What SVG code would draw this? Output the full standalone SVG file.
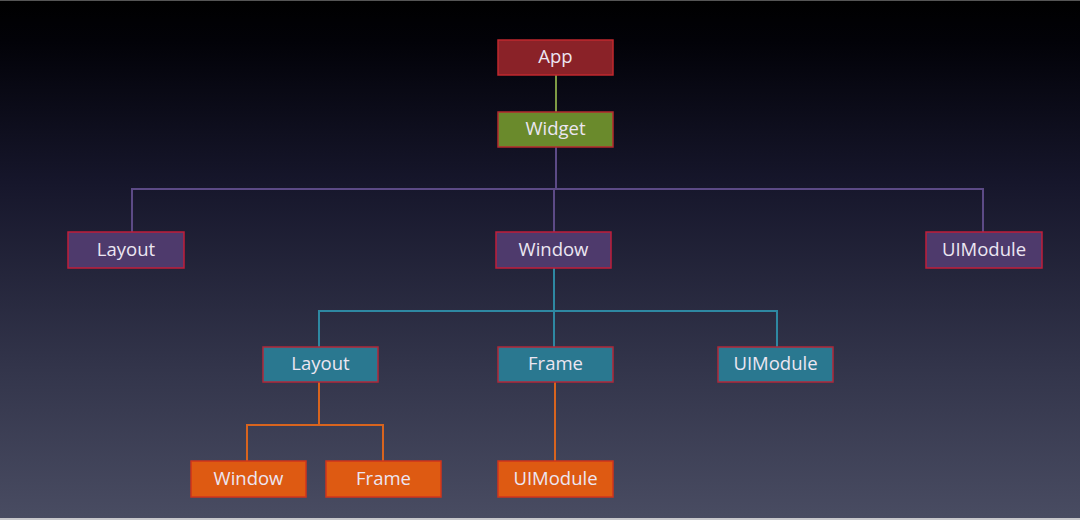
<svg xmlns="http://www.w3.org/2000/svg" width="1080" height="520" viewBox="0 0 1080 520">
  <defs>
    <linearGradient id="bg" x1="0" y1="0" x2="0" y2="1">
      <stop offset="0" stop-color="#000000"/>
      <stop offset="0.08" stop-color="#020208"/>
      <stop offset="0.35" stop-color="#16162b"/>
      <stop offset="0.7" stop-color="#32344a"/>
      <stop offset="1" stop-color="#494c62"/>
    </linearGradient>
    <style>
      .box { stroke-width: 1.5; }
      .app { fill: #8a2228; stroke: #c0282e; }
      .wid { fill: #6a8a2c; stroke: #b42a2e; }
      .pur { fill: #4e3a6c; stroke: #c01e3a; }
      .tea { fill: #2a7890; stroke: #b0283a; }
      .ora { fill: #de5a12; stroke: #d0341c; }
      .lbl { font-family: "Open Sans", "Liberation Sans", sans-serif; font-size: 18.5px; fill: #ece6f2; text-anchor: middle; }
      .ln { fill: none; stroke-width: 2; }
      .lg { stroke: #7d9a44; }
      .lp { stroke: #5c4a86; }
      .lt { stroke: #2e88a2; }
      .lo { stroke: #d8641e; }
    </style>
  </defs>
  <rect x="0" y="0" width="1080" height="520" fill="url(#bg)"/>
  <rect x="0" y="0" width="1080" height="1" fill="#555555"/>
  <rect x="0" y="518" width="1080" height="2" fill="#c8c8cc"/>

  <g id="connectors">
    <path class="ln lg" d="M556 75 V112"/>
    <path class="ln lp" d="M556 147 V189 M132 232 V189 H983 V232 M554 189 V232"/>
    <path class="ln lt" d="M554 268 V311 M319 347 V311 H777 V347 M554 311 V347"/>
    <path class="ln lo" d="M319 382 V425 M247 461 V425 H383 V461 M555 382 V461"/>
  </g>

  <g id="app"><rect class="box app" x="498" y="40" width="115" height="35"/><text class="lbl" x="555.5" y="63">App</text></g>
  <g id="widget"><rect class="box wid" x="498" y="112" width="115" height="35"/><text class="lbl" x="555.5" y="135">Widget</text></g>

  <g id="layout1"><rect class="box pur" x="68" y="232" width="116" height="36"/><text class="lbl" x="126" y="256">Layout</text></g>
  <g id="window1"><rect class="box pur" x="496" y="232" width="115" height="36"/><text class="lbl" x="553.5" y="256">Window</text></g>
  <g id="uimodule1"><rect class="box pur" x="926" y="232" width="116" height="36"/><text class="lbl" x="984" y="256">UIModule</text></g>

  <g id="layout2"><rect class="box tea" x="263" y="347" width="115" height="35"/><text class="lbl" x="320.5" y="370">Layout</text></g>
  <g id="frame2"><rect class="box tea" x="498" y="347" width="115" height="35"/><text class="lbl" x="555.5" y="370">Frame</text></g>
  <g id="uimodule2"><rect class="box tea" x="718" y="347" width="115" height="35"/><text class="lbl" x="775.5" y="370">UIModule</text></g>

  <g id="window3"><rect class="box ora" x="191" y="461" width="115" height="36"/><text class="lbl" x="248.5" y="485">Window</text></g>
  <g id="frame3"><rect class="box ora" x="326" y="461" width="115" height="36"/><text class="lbl" x="383.5" y="485">Frame</text></g>
  <g id="uimodule3"><rect class="box ora" x="498" y="461" width="115" height="36"/><text class="lbl" x="555.5" y="485">UIModule</text></g>
</svg>
